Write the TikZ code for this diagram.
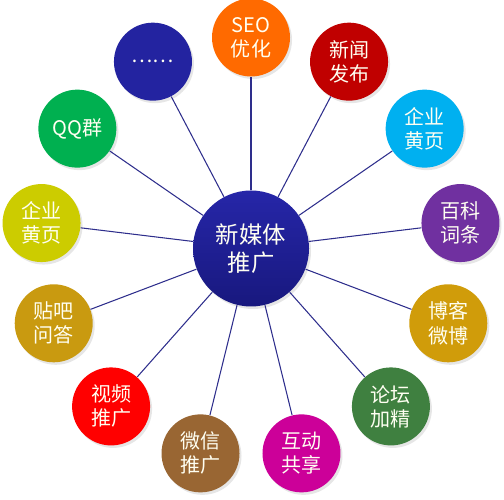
\documentclass[tikz,border=0pt]{standalone}
\usepackage{fontspec}
\newfontfamily\cjk{Noto Sans CJK SC}
\usetikzlibrary{calc,shadows}
\definecolor{hubtop}{HTML}{2626A8}
\definecolor{hubbot}{HTML}{18187E}
\definecolor{spokeblue}{HTML}{2E2E8C}
\definecolor{leaftext}{HTML}{FFFFF2}
\definecolor{seoorange}{HTML}{FF6A00}
\definecolor{newsred}{HTML}{C00000}
\definecolor{skycyan}{HTML}{00B0F0}
\definecolor{wikipurple}{HTML}{7030A0}
\definecolor{bloggold}{HTML}{D09C0A}
\definecolor{forumgreen}{HTML}{3F8040}
\definecolor{sharemagenta}{HTML}{CC0099}
\definecolor{wechatbrown}{HTML}{996633}
\definecolor{videored}{HTML}{FF0000}
\definecolor{tiebagold}{HTML}{C99A10}
\definecolor{pageolive}{HTML}{CCCC00}
\definecolor{qqgreen}{HTML}{00B050}
\definecolor{moreblue}{HTML}{2323A0}

\tikzset{
  hub/.style={circle, minimum size=2.32cm, inner sep=0pt, top color=hubtop, bottom color=hubbot,
    text=leaftext, align=center, font=\cjk\fontsize{13.3}{16}\selectfont,
    drop shadow={opacity=0.2, shadow xshift=0.04cm, shadow yshift=-0.05cm}},
  leaf/.style={circle, minimum size=1.56cm, inner sep=0pt, text=leaftext, align=center,
    font=\cjk\fontsize{11.4}{13.7}\selectfont,
    drop shadow={opacity=0.2, shadow xshift=0.04cm, shadow yshift=-0.05cm}},
  spoke/.style={draw=spokeblue, line width=0.6pt}
}

\begin{document}
\begin{tikzpicture}
\useasboundingbox (0,0) rectangle (10.08,10);

% Center
\node[hub] (hub) at (5.02,5.03) {新媒体\\推广};

% Outer circles, clockwise from the top
\foreach \col/\nm/\txt [count=\i from 0] in {
    seoorange/seo/SEO\\优化,
    newsred/news/新闻\\发布,
    skycyan/pagesr/企业\\黄页,
    wikipurple/wiki/百科\\词条,
    bloggold/blog/博客\\微博,
    forumgreen/forum/论坛\\加精,
    sharemagenta/share/互动\\共享,
    wechatbrown/wechat/微信\\推广,
    videored/video/视频\\推广,
    tiebagold/tieba/贴吧\\问答,
    pageolive/pagesl/企业\\黄页,
    qqgreen/qq/QQ群,
    moreblue/more/……}
{
  \pgfmathsetmacro\ang{90-\i*360/13}
  \node[leaf, fill=\col] (\nm) at ($(hub)+(\ang:4.22)$) {\txt};
  \draw[spoke] (hub) -- (\nm);
}

\end{tikzpicture}
\end{document}
